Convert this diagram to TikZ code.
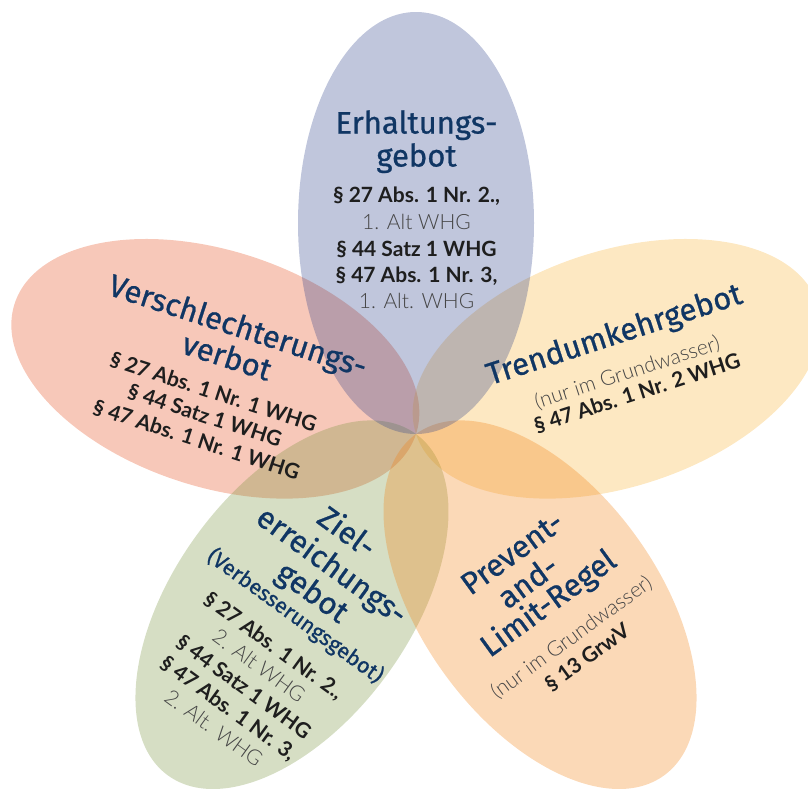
\documentclass[tikz,border=0pt]{standalone}
\usepackage{fontspec}
\setmainfont{Lato}
\newfontfamily\titlefont{Fira Sans}[FakeBold=0.8]
\newfontfamily\lightfont{Lato Light}
\definecolor{navy}{RGB}{16,54,100}
\definecolor{pblue}{RGB}{45,65,138}
\definecolor{psalmon}{RGB}{228,72,22}
\definecolor{pyellow}{RGB}{248,178,52}
\definecolor{pgreen}{RGB}{118,145,58}
\definecolor{porange}{RGB}{242,128,18}
\definecolor{refc}{RGB}{30,30,30}
\definecolor{lightc}{RGB}{70,70,70}
\tikzset{
  ln/.style={inner sep=0pt, text depth=0pt, anchor=center},
  ttl/.style={ln, font=\titlefont\fontsize{31}{35}\selectfont, text=navy, text height=21pt},
  subt/.style={ln, font=\titlefont\fontsize{21.5}{24}\selectfont, text=navy, text height=15pt},
  refb/.style={ln, font=\bfseries\fontsize{21}{24}\selectfont, text=refc, text height=15pt},
  refl/.style={ln, font=\lightfont\fontsize{21}{24}\selectfont, text=lightc, text height=15pt},
  petal/.style={fill=#1, fill opacity=0.3}
}
\begin{document}
\begin{tikzpicture}[x=1pt,y=1pt]
\useasboundingbox (0,0) rectangle (808,-788);
\clip (0,0) rectangle (808,-788);
\coordinate (C) at (416,-434);
% petals
\foreach \ang/\col in {162/psalmon, 18/pyellow, 234/pgreen, 306/porange, 90/pblue}{
  \fill[petal=\col, shift={(C)}, rotate=\ang] (211,0) ellipse [x radius=211, y radius=118];
}
% top petal
\node[ttl] (t1) at (416.5,-123) {Erhaltungs-};
\node[ttl] (t2) at (416.5,-156) {gebot};
\node[refb] (t3) at (416.5,-195) {§ 27 Abs. 1 Nr. 2.,};
\node[refl] (t4) at (416.5,-222) {1. Alt WHG};
\node[refb] (t5) at (416.5,-249) {§ 44 Satz 1 WHG};
\node[refb] (t6) at (416.5,-275) {§ 47 Abs. 1 Nr. 3,};
\node[refl] (t7) at (416.5,-301) {1. Alt. WHG};
% left petal
\begin{scope}[every node/.append style={rotate=-18}]
\node[ttl] (l1) at (238,-326) {Verschlechterungs-};
\node[ttl] (l2) at (227,-357) {verbot};
\node[refb] (l3) at (213.5,-392) {§ 27 Abs. 1 Nr. 1 WHG};
\node[refb] (l4) at (205,-415.5) {§ 44 Satz 1 WHG};
\node[refb] (l5) at (196.5,-439.5) {§ 47 Abs. 1 Nr. 1 WHG};
\end{scope}
% right petal
\begin{scope}[every node/.append style={rotate=18}]
\node[ttl] (r1) at (614,-334) {Trendumkehrgebot};
\node[refl] (r2) at (627,-372) {(nur im Grundwasser)};
\node[refb] (r3) at (637,-393) {§ 47 Abs. 1 Nr. 2 WHG};
\end{scope}
% bottom-left petal
\begin{scope}[every node/.append style={rotate=-36}]
\node[ttl] (g1) at (347,-532) {Ziel-};
\node[ttl] (g2) at (332.1,-565.4) {erreichungs-};
\node[ttl] (g3) at (312.7,-592.1) {gebot};
\node[subt] (g4) at (295.7,-615.6) {(Verbesserungsgebot)};
\node[refb] (g5) at (273.9,-645.5) {§ 27 Abs. 1 Nr. 2.,};
\node[refl] (g6) at (259.2,-665.7) {2. Alt WHG};
\node[refb] (g7) at (243.9,-686.8) {§ 44 Satz 1 WHG};
\node[refb] (g8) at (228.6,-707.8) {§ 47 Abs. 1 Nr. 3,};
\node[refl] (g9) at (213.9,-728) {2. Alt. WHG};
\end{scope}
% bottom-right petal
\begin{scope}[every node/.append style={rotate=36}]
\node[ttl] (o1) at (512,-553) {Prevent-};
\node[ttl] (o2) at (528,-582) {and-};
\node[ttl] (o3) at (548,-603) {Limit-Regel};
\node[refl] (o4) at (571,-637) {(nur im Grundwasser)};
\node[refb] (o5) at (587,-657) {§ 13 GrwV};
\end{scope}
\end{tikzpicture}
\end{document}
